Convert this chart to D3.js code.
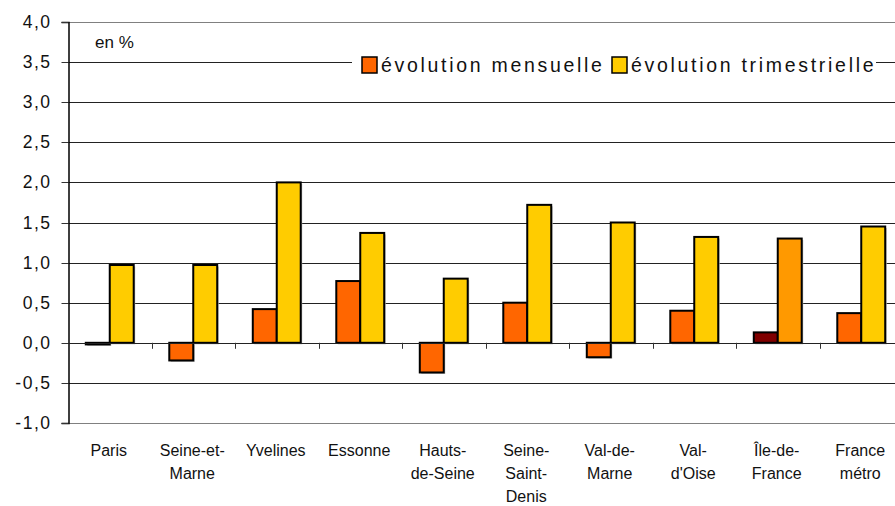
<!DOCTYPE html>
<html>
<head>
<meta charset="utf-8">
<script src="https://cdn.jsdelivr.net/npm/d3@7"></script>
<style>
  body { margin: 0; background: #fff; }
  svg { display: block; font-family: "Liberation Sans", Arial, sans-serif; }
</style>
</head>
<body>
<div id="chart"></div>
<script>
// Données
const categories = [
    ['Paris'], ['Seine-et-', 'Marne'], ['Yvelines'], ['Essonne'], ['Hauts-', 'de-Seine'],
    ['Seine-', 'Saint-', 'Denis'], ['Val-de-', 'Marne'], ['Val-', "d'Oise"], ['Île-de-', 'France'], ['France', 'métro']
];
const mensuelle = [-0.02, -0.22, 0.42, 0.77, -0.37, 0.50, -0.18, 0.40, 0.13, 0.37];
const trimestrielle = [0.97, 0.97, 2.00, 1.37, 0.80, 1.72, 1.50, 1.32, 1.30, 1.45];
const seriesNames = ['évolution mensuelle', 'évolution trimestrielle'];
const yTicks = [-1, -0.5, 0, 0.5, 1, 1.5, 2, 2.5, 3, 3.5, 4];

const width = 895, height = 506;
const margin = { top: 22, left: 68, bottom: 83 };
const plotRight = 903;

const svg = d3.select('#chart').append('svg')
    .attr('width', width)
    .attr('height', height);

const keys = categories.map(c => c.join(''));

const x = d3.scaleBand()
    .domain(keys)
    .range([margin.left, plotRight])
    .padding(0);

const xs = d3.scaleBand()
    .domain([0, 1])
    .range([x.bandwidth() * 0.213, x.bandwidth() * 0.787]);

const y = d3.scaleLinear()
    .domain([-1, 4])
    .range([height - margin.bottom, margin.top]);

// Couleurs (Île-de-France mise en valeur)
function color(i, s) {
    if (keys[i] === 'Île-de-France') return s === 0 ? '#800000' : '#FF9900';
    return s === 0 ? '#FF6600' : '#FFCC00';
}

// Grille
svg.append('g')
    .selectAll('line')
    .data(yTicks)
    .enter().append('line')
    .attr('x1', margin.left)
    .attr('x2', width)
    .attr('y1', d => Math.round(y(d)) + 0.5)
    .attr('y2', d => Math.round(y(d)) + 0.5)
    .attr('stroke', d => (d === 4 || d === -1) ? '#808080' : '#222')
    .attr('stroke-width', 1.2);

// Axe Y
const yAxis = svg.append('g')
    .attr('transform', `translate(${margin.left + 0.5},0)`)
    .call(d3.axisLeft(y).tickValues(yTicks).tickSize(7).tickPadding(10)
        .tickFormat(d => d3.format('.1f')(d).replace('.', ',').replace('\u2212', '-')));
yAxis.select('.domain').attr('stroke', '#000').attr('stroke-width', 1.5);
yAxis.selectAll('.tick line').attr('stroke', '#333');
yAxis.selectAll('.tick').attr('transform', d => `translate(0,${Math.round(y(d)) + 0.5})`);
yAxis.selectAll('text')
    .attr('font-family', '"Liberation Sans", Arial, sans-serif')
    .attr('font-size', 17.5)
    .attr('letter-spacing', 1.5)
    .attr('fill', '#111');

// Barres
const data = [];
keys.forEach((k, i) => {
    data.push({ i, s: 0, value: mensuelle[i] });
    data.push({ i, s: 1, value: trimestrielle[i] });
});

const bars = svg.append('g');
// ombre
bars.selectAll('.shadow')
    .data(data)
    .enter().append('rect')
    .attr('class', 'shadow')
    .attr('x', d => x(keys[d.i]) + xs(d.s) + 1.5)
    .attr('y', d => Math.min(y(d.value), y(0)) + 1.5)
    .attr('width', xs.bandwidth())
    .attr('height', d => Math.max(Math.abs(y(d.value) - y(0)), 1))
    .attr('fill', '#bbb');

bars.selectAll('.bar')
    .data(data)
    .enter().append('rect')
    .attr('class', 'bar')
    .attr('x', d => x(keys[d.i]) + xs(d.s))
    .attr('y', d => Math.min(y(d.value), y(0)))
    .attr('width', xs.bandwidth())
    .attr('height', d => Math.max(Math.abs(y(d.value) - y(0)), 1))
    .attr('fill', d => color(d.i, d.s))
    .attr('stroke', '#000')
    .attr('stroke-width', 2);

// Ligne zéro et graduations
svg.append('line')
    .attr('x1', margin.left).attr('x2', width)
    .attr('y1', Math.round(y(0)) + 0.5).attr('y2', Math.round(y(0)) + 0.5)
    .attr('stroke', '#222').attr('stroke-width', 1.2);

svg.append('g')
    .selectAll('line')
    .data(keys.slice(1))
    .enter().append('line')
    .attr('x1', d => Math.round(x(d)) + 0.5)
    .attr('x2', d => Math.round(x(d)) + 0.5)
    .attr('y1', y(0))
    .attr('y2', y(0) + 6)
    .attr('stroke', '#333');

// Libellés X
const labels = svg.append('g')
    .selectAll('text')
    .data(categories)
    .enter().append('text')
    .attr('x', (d, i) => x(keys[i]) + x.bandwidth() / 2 - 1)
    .attr('y', 456)
    .attr('text-anchor', 'middle')
    .attr('font-family', '"Liberation Sans Narrow", "Liberation Sans", Arial, sans-serif')
    .attr('font-size', 16)
    .attr('fill', '#111');
labels.selectAll('tspan')
    .data(d => d)
    .enter().append('tspan')
    .attr('x', function() { return d3.select(this.parentNode).attr('x'); })
    .attr('dy', (d, i) => i === 0 ? 0 : 23)
    .text(d => d);

// en %
svg.append('text')
    .attr('x', 95)
    .attr('y', 48)
    .attr('font-size', 17)
    .attr('fill', '#111')
    .text('en %');

// Légende
const legend = svg.append('g');
legend.append('rect')
    .attr('x', 352).attr('y', 48)
    .attr('width', 524).attr('height', 32)
    .attr('fill', '#fff');

const legendX = [362, 612];
const items = legend.selectAll('g')
    .data(seriesNames)
    .enter().append('g')
    .attr('transform', (d, i) => `translate(${legendX[i]},57)`);

items.append('rect')
    .attr('width', 15).attr('height', 16)
    .attr('fill', (d, i) => i === 0 ? '#FF6600' : '#FFCC00')
    .attr('stroke', '#000')
    .attr('stroke-width', 1.5);

items.append('text')
    .attr('x', 19)
    .attr('y', 15)
    .attr('font-size', 19.5)
    .attr('letter-spacing', 2.7)
    .attr('fill', '#111')
    .text(d => d);
</script>
</body>
</html>
